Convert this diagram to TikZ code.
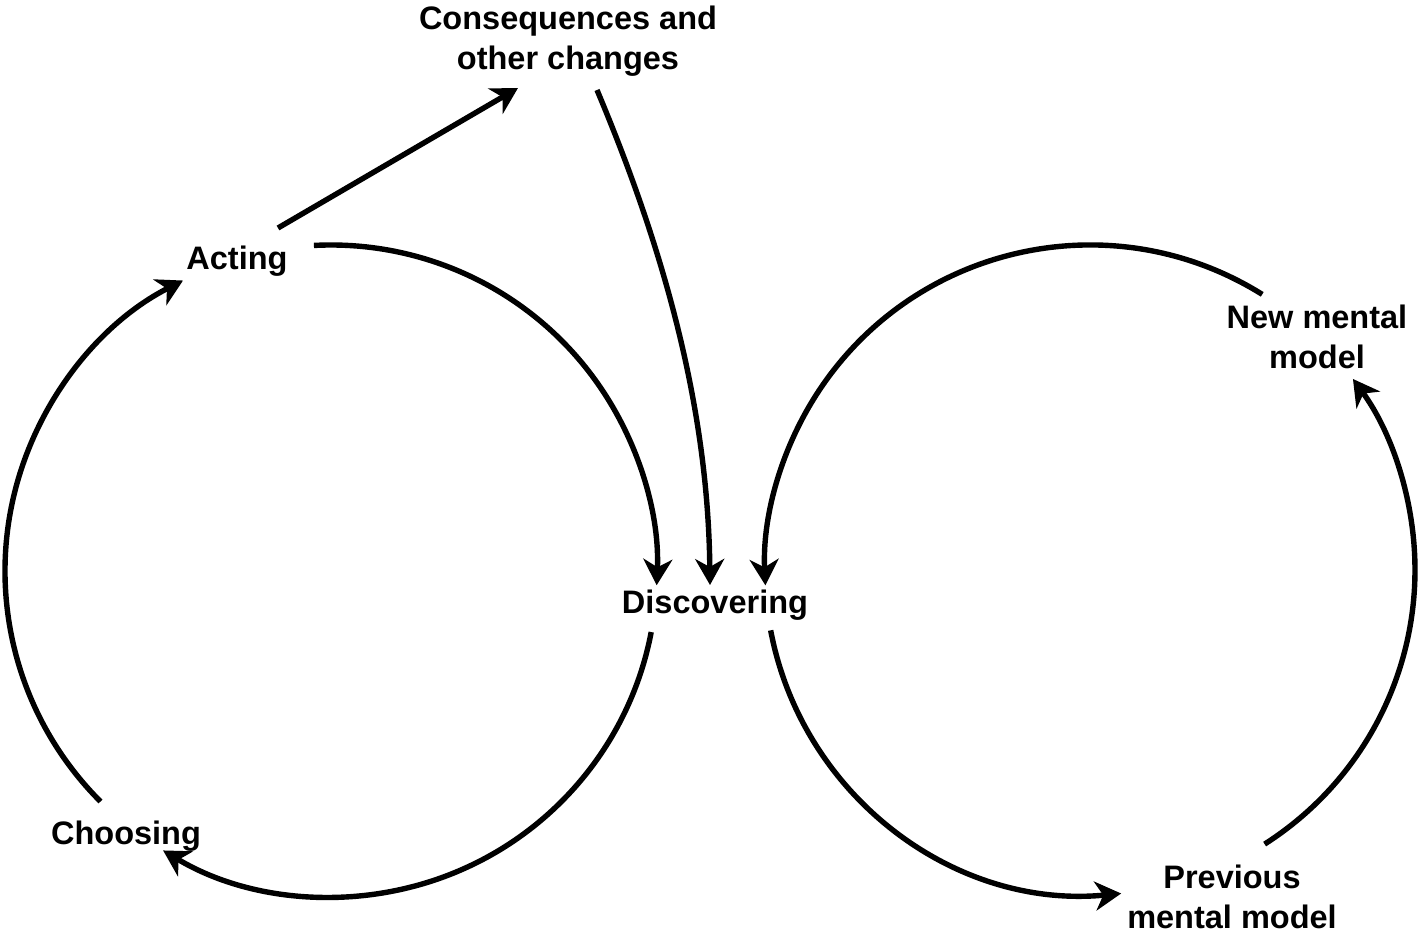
\documentclass[tikz,border=0pt]{standalone}
\usepackage{fontspec}
\setmainfont{Liberation Sans}
\usetikzlibrary{arrows.meta,calc}
\begin{document}
\begin{tikzpicture}[x=1pt,y=1pt,
  lbl/.style={font=\fontsize{32.5}{40}\selectfont\bfseries, inner sep=0pt, anchor=base, align=center},
  flow/.style={line width=5.4pt, -{Stealth[length=26pt,width=29pt,inset=8pt]}}]
\useasboundingbox (0,0) rectangle (1421,938);

% labels (two-line labels sit on the baseline of their last line)
\node[lbl] (cons) at (568,868) {Consequences and\\other changes};
\node[lbl] (act)  at (237,668) {Acting};
\node[lbl] (disc) at (715,325) {Discovering};
\node[lbl] (choo) at (126,94)  {Choosing};
\node[lbl] (newm) at (1317,569) {New mental\\model};
\node[lbl] (prev) at (1232,10)  {Previous\\mental model};

% centres of the two loops
\coordinate (L) at (331,367);
\coordinate (R) at (1090,368);

% left loop: acting -> discovering -> choosing -> acting
\draw[flow] ($(L)+(93:326)$) arc[start angle=93, end angle=-2.5, radius=326];
\draw[flow] ($(L)+(-10.8:326)$) arc[start angle=-10.8, end angle=-121, radius=326];
\draw[flow] ($(L)+(225:326)$) arc[start angle=225, end angle=117, radius=326];

% right loop: new model -> discovering -> previous model -> new model
\draw[flow] ($(R)+(58:325)$) arc[start angle=58, end angle=182.7, radius=325];
\draw[flow] ($(R)+(190.7:325)$) arc[start angle=190.7, end angle=275.5, radius=325];
\draw[flow] ($(R)+(302.5:325)$) arc[start angle=302.5, end angle=396, radius=325];

% acting produces consequences, which feed discovering
\coordinate (actOut) at (278,710);
\coordinate (consIn) at (518,850);
\coordinate (consOut) at (597,848);
\coordinate (discIn) at (710,353);
\draw[flow] (actOut) -- (consIn);
\draw[flow] (consOut) .. controls (660,698) and (708,538) .. (discIn);
\end{tikzpicture}
\end{document}
